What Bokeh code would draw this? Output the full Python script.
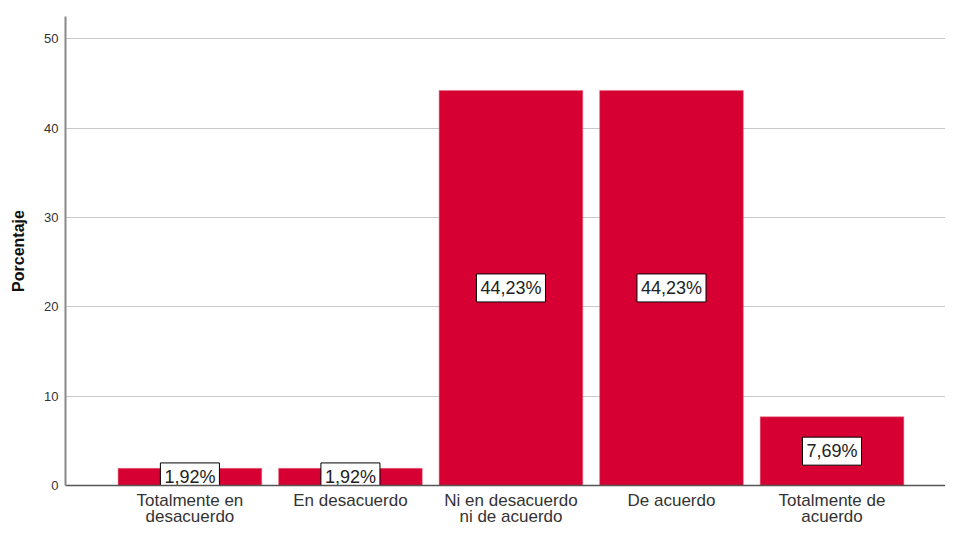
from bokeh.plotting import figure
from bokeh.models import ColumnDataSource, FixedTicker, Range1d
from bokeh.core.properties import value
from bokeh.embed import file_html
from bokeh.resources import INLINE

categories = ["Totalmente en\ndesacuerdo", "En desacuerdo", "Ni en desacuerdo\nni de acuerdo", "De acuerdo", "Totalmente de\nacuerdo"]
values = [1.92, 1.92, 44.23, 44.23, 7.69]
labels = ["1,92%", "1,92%", "44,23%", "44,23%", "7,69%"]
y_ticks = [0, 10, 20, 30, 40, 50]

xs = list(range(1, len(categories) + 1))
src = ColumnDataSource(dict(x=xs, top=values, mid=[v / 2 for v in values], lab=labels))

p = figure(width=945, height=529, output_backend="svg", toolbar_location=None,
           x_range=Range1d(0.225, 5.707), y_range=Range1d(0, 52.5),
           min_border_left=65, min_border_top=16, min_border_bottom=40, min_border_right=0)
p.outline_line_color = None
p.background_fill_color = "white"

p.vbar(x="x", top="top", width=0.895, bottom=0, source=src, fill_color="#D60032", line_color="#E0707F", line_width=0.5)

p.text(x="x", y="mid", text="lab", source=src, text_align="center", text_baseline="middle",
       text_font=value("Liberation Sans"), text_font_size="18px", text_color="#222222",
       background_fill_color="white", border_line_color="black", border_line_width=1, padding=4)

p.xaxis.ticker = FixedTicker(ticks=xs)
p.xaxis.major_label_overrides = {x: c for x, c in zip(xs, categories)}
p.xaxis.major_label_text_font = "Liberation Sans"
p.xaxis.major_label_text_font_size = "17px"
p.xaxis.major_label_text_line_height = 0.88
p.xaxis.major_label_text_color = "#333333"
p.xaxis.major_tick_line_color = None
p.xaxis.minor_tick_line_color = None
p.xaxis.major_tick_out = 0
p.xaxis.major_tick_in = 0
p.xaxis.minor_tick_out = 0
p.xaxis.axis_line_color = "#555555"
p.xaxis.axis_line_width = 1.5
p.xaxis.major_label_standoff = 5

p.yaxis.ticker = FixedTicker(ticks=y_ticks)
p.yaxis.major_label_text_font = "Liberation Sans"
p.yaxis.major_label_text_font_size = "13px"
p.yaxis.major_label_text_color = "#333333"
p.yaxis.major_tick_line_color = None
p.yaxis.minor_tick_line_color = None
p.yaxis.major_tick_out = 0
p.yaxis.major_tick_in = 0
p.yaxis.minor_tick_out = 0
p.yaxis.axis_line_color = "#888888"
p.yaxis.axis_line_width = 2
p.yaxis.axis_label = "Porcentaje"
p.yaxis.axis_label_text_font = "Liberation Sans"
p.yaxis.axis_label_text_font_style = "bold"
p.yaxis.axis_label_text_font_size = "16px"
p.yaxis.axis_label_text_color = "#111111"
p.yaxis.major_label_standoff = 7
p.yaxis.axis_label_standoff = 14

p.xgrid.grid_line_color = None
p.ygrid.grid_line_color = "#C8C8C8"
p.ygrid.grid_line_width = 1
p.ygrid.level = "underlay"

open("out.html", "w").write(file_html(p, INLINE))
